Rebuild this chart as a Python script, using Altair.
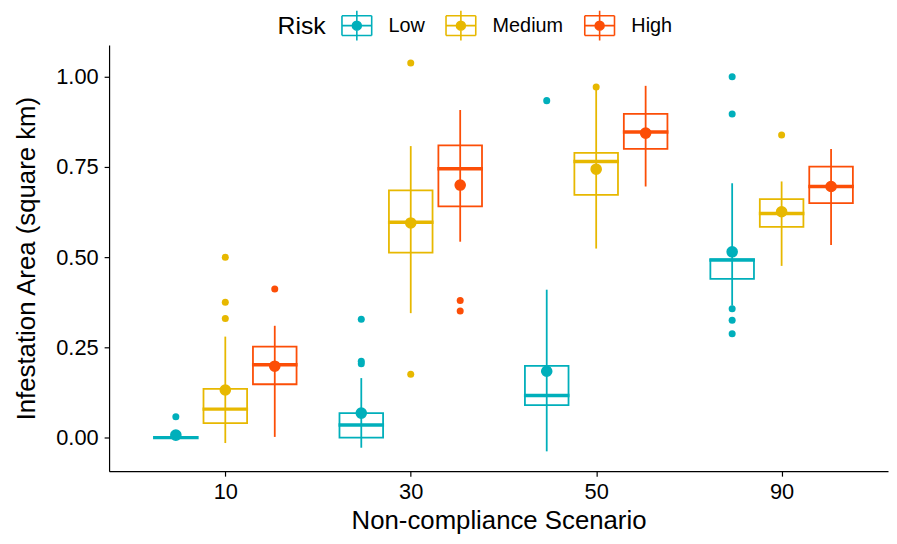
import altair as alt
import pandas as pd

# ---------------- data ----------------
scenario_labels = ["10", "30", "50", "90"]
risk_levels = ["Low", "Medium", "High"]
risk_colors = ["#00AFBB", "#E7B800", "#FC4E07"]

group_scenario = ["10", "10", "10", "30", "30", "30", "50", "50", "50", "90", "90", "90"]
group_risk = ["Low", "Medium", "High"] * 4

q1_values     = [0.000, 0.040, 0.148, 0.000, 0.513, 0.641, 0.090, 0.673, 0.800, 0.440, 0.584, 0.650]
median_values = [0.000, 0.079, 0.202, 0.035, 0.597, 0.745, 0.117, 0.765, 0.847, 0.492, 0.621, 0.696]
q3_values     = [0.000, 0.135, 0.252, 0.068, 0.685, 0.810, 0.199, 0.789, 0.897, 0.495, 0.661, 0.751]
whisker_low   = [0.000, -0.015, 0.002, -0.028, 0.345, 0.543, -0.038, 0.524, 0.696, 0.366, 0.476, 0.534]
whisker_high  = [0.000, 0.280, 0.310, 0.165, 0.808, 0.908, 0.410, 0.968, 0.975, 0.705, 0.710, 0.800]
mean_values   = [0.007, 0.132, 0.198, 0.068, 0.595, 0.700, 0.184, 0.744, 0.844, 0.515, 0.626, 0.696]

outlier_scenario = ["10", "10", "10", "10", "10",
                    "30", "30", "30", "30", "30", "30", "30",
                    "50", "50",
                    "90", "90", "90", "90", "90", "90"]
outlier_risk = ["Low", "Medium", "Medium", "Medium", "High",
                "Low", "Low", "Low", "Medium", "Medium", "High", "High",
                "Low", "Medium",
                "Low", "Low", "Low", "Low", "Low", "Medium"]
outlier_values = [0.058, 0.500, 0.375, 0.330, 0.412,
                  0.328, 0.212, 0.205, 1.038, 0.176, 0.380, 0.351,
                  0.934, 0.972,
                  1.000, 0.897, 0.357, 0.325, 0.288, 0.839]

# ---------------- layout helpers (dodge like ggplot) ----------------
dodge = {"Low": -0.2667, "Medium": 0.0, "High": 0.2667}
color_of = dict(zip(risk_levels, risk_colors))


def position(s, r):
    return scenario_labels.index(s) + 1 + dodge[r]


stats = pd.DataFrame({
    "scenario": group_scenario,
    "risk": group_risk,
    "q1": q1_values,
    "median": median_values,
    "q3": q3_values,
    "wlo": whisker_low,
    "whi": whisker_high,
    "mean": mean_values,
})
stats["pos"] = [position(s, r) for s, r in zip(stats["scenario"], stats["risk"])]
stats["hex"] = [color_of[r] for r in stats["risk"]]

outliers = pd.DataFrame({
    "scenario": outlier_scenario,
    "risk": outlier_risk,
    "value": outlier_values,
})
outliers["pos"] = [position(s, r) for s, r in zip(outliers["scenario"], outliers["risk"])]
outliers["hex"] = [color_of[r] for r in outliers["risk"]]

# ---------------- encodings ----------------
cscale = alt.Scale(domain=risk_levels, range=risk_colors)
hex_color = alt.Color("hex:N", scale=None)

x_enc = alt.X(
    "pos:Q",
    scale=alt.Scale(domain=[0.4, 4.547], nice=False, zero=False),
    axis=alt.Axis(
        values=[1, 2, 3, 4],
        labelExpr="['', '10', '30', '50', '90'][datum.value]",
        title="Non-compliance Scenario",
        titleY=50,
        titleBaseline="middle",
    ),
)
y_scale = alt.Scale(domain=[-0.093, 1.088], nice=False, zero=False)
y_axis = alt.Axis(
    values=[0, 0.25, 0.5, 0.75, 1.0],
    format=".2f",
    title="Infestation Area (square km)",
    titleX=-83,
    titleY=215,
    titleBaseline="middle",
)

legend_path = (
    "M-1,-0.66L1,-0.66M1,-0.66L1,0.66M1,0.66L-1,0.66M-1,0.66L-1,-0.66"
    "M-1,0L1,0M0,-1L0,-0.66M0,0.66L0,1M0,-0.66L0,0.66"
    "M0.3,0A0.3,0.3,0,1,1,-0.3,0A0.3,0.3,0,1,1,0.3,0Z"
)
risk_legend = alt.Legend(
    title="Risk",
    orient="none",
    legendX=170,
    legendY=-36,
    direction="horizontal",
    titleOrient="left",
    symbolType=legend_path,
    symbolSize=900,
    symbolStrokeWidth=1.6,
    symbolOpacity=1,
)

whiskers = alt.Chart(stats).mark_rule(strokeWidth=1.8, opacity=1).encode(
    x=x_enc,
    y=alt.Y("wlo:Q", scale=y_scale, axis=y_axis),
    y2="whi:Q",
    color=hex_color,
)

boxes = alt.Chart(stats).mark_bar(size=44, filled=False, strokeWidth=1.8, opacity=1).encode(
    x=x_enc,
    y=alt.Y("q1:Q", scale=y_scale, axis=y_axis),
    y2="q3:Q",
    color=hex_color,
)

medians = alt.Chart(stats).mark_tick(orient="horizontal", size=46, thickness=3.5, opacity=1).encode(
    x=x_enc,
    y=alt.Y("median:Q", scale=y_scale, axis=y_axis),
    color=hex_color,
)

outlier_pts = alt.Chart(outliers).mark_circle(size=50, opacity=1).encode(
    x=x_enc,
    y=alt.Y("value:Q", scale=y_scale, axis=y_axis),
    color=hex_color,
)

means = alt.Chart(stats).mark_circle(size=104, opacity=1, strokeWidth=1.5).encode(
    x=x_enc,
    y=alt.Y("mean:Q", scale=y_scale, axis=y_axis),
    fill=alt.Fill("risk:N", scale=cscale, legend=risk_legend),
    stroke=alt.Stroke("risk:N", scale=cscale, legend=risk_legend),
)

chart = (
    alt.layer(whiskers, boxes, medians, outlier_pts, means)
    .properties(
        width=786,
        height=430,
        autosize=alt.AutoSizeParams(type="none"),
        padding={"left": 102, "top": 35, "right": 1, "bottom": 63},
    )
    .configure(font="Liberation Sans")
    .configure_view(stroke=None)
    .configure_axis(
        grid=False,
        domainColor="black",
        domainWidth=1.2,
        tickColor="black",
        tickWidth=1.2,
        tickSize=5,
        labelColor="black",
        labelFontSize=22,
        labelPadding=6,
        titleColor="black",
        titleFontSize=26,
        titleFontWeight="normal",
    )
    .configure_legend(
        labelFontSize=20,
        labelColor="black",
        titleFontSize=25,
        titleColor="black",
        titleFontWeight="normal",
        titlePadding=15,
        labelOffset=16,
        columnPadding=17,
    )
)

chart.save("out.html", embed_options={"renderer": "svg", "actions": False})
